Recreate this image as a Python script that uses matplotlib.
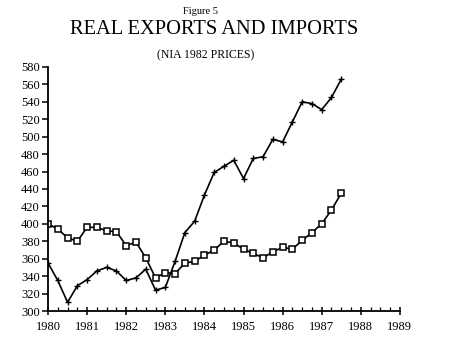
import matplotlib
matplotlib.use("Agg")
import matplotlib.pyplot as plt
from matplotlib.ticker import MultipleLocator
import numpy as np

plt.rcParams['font.family'] = ['Liberation Serif', 'DejaVu Serif']

# Quarterly observations, 1980Q1 .. 1987Q3 (x = year + quarter offset)
quarters = [1980 + 0.25 * i for i in range(31)]

exports = [355, 335, 310, 329, 336, 346, 350, 346, 335, 338, 348, 324, 327, 357, 390, 403,
           433, 459, 466, 473, 452, 475, 477, 497, 494, 517, 540, 538, 531, 545, 566]
imports = [400, 394, 384, 380, 396, 396, 392, 391, 375, 379, 361, 338, 344, 343, 355, 357,
           364, 370, 380, 378, 371, 366, 361, 368, 373, 371, 381, 390, 400, 416, 435]

year_ticks = list(range(1980, 1990))
y_ticks = list(range(300, 581, 20))

fig = plt.figure(figsize=(4.5, 3.61), dpi=100)
ax = fig.add_axes([0.1067, 0.1385, 0.782, 0.676])

ax.plot(quarters, exports, color='black', lw=1.2, marker='+', ms=5, mew=1.0)
ax.plot(quarters, imports, color='black', lw=1.2, marker='s', ms=4.8, mew=1.1,
        mfc='white', mec='black')

ax.set_xlim(1980, 1989)
ax.set_ylim(300, 580)
ax.set_xticks(year_ticks)
ax.set_xticklabels([str(y) for y in year_ticks])
ax.xaxis.set_minor_locator(MultipleLocator(0.25))
ax.set_yticks(y_ticks)
ax.set_yticklabels([str(v) for v in y_ticks])

for s in ['top', 'right']:
    ax.spines[s].set_visible(False)
for s in ['left', 'bottom']:
    ax.spines[s].set_linewidth(1.3)

ax.tick_params(axis='x', which='major', direction='inout', length=6, width=1.1,
               labelsize=9, pad=4)
ax.tick_params(axis='x', which='minor', direction='in', length=3, width=0.9)
ax.tick_params(axis='y', which='major', direction='out', length=4, width=1.1,
               labelsize=9, pad=2)

fig.text(0.446, 0.969, 'Figure 5', ha='center', va='center', fontsize=7.5)
fig.text(0.475, 0.917, 'REAL EXPORTS AND IMPORTS', ha='center', va='center', fontsize=14.8)
fig.text(0.456, 0.848, '(NIA 1982 PRICES)', ha='center', va='center', fontsize=8.5)

fig.savefig('out.png', dpi=100)
